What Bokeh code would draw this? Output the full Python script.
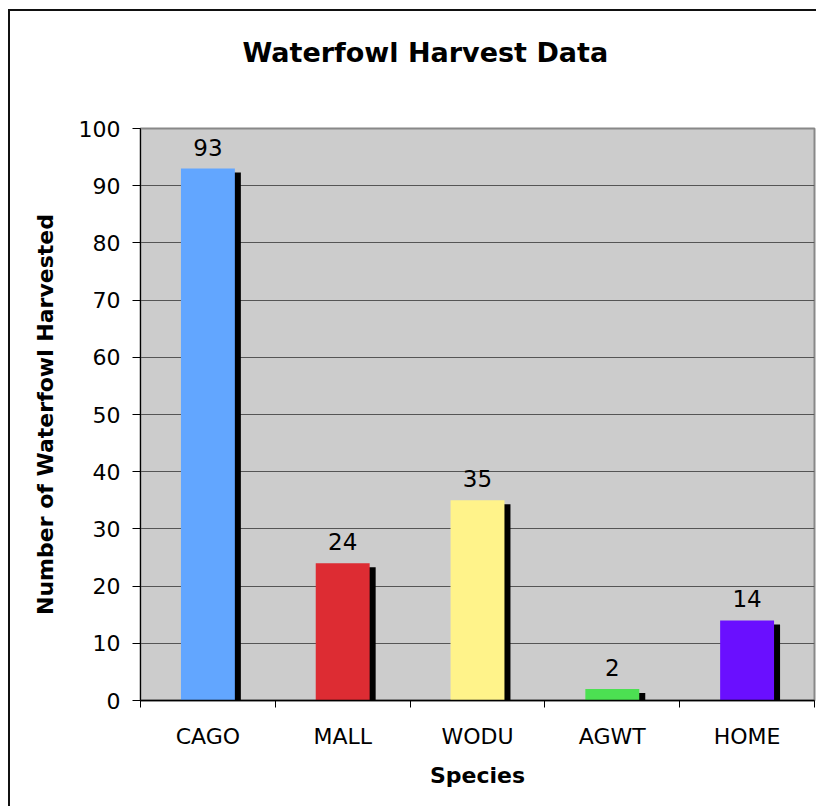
import numpy as np
from bokeh.plotting import figure
from bokeh.models import FixedTicker, Range1d, LabelSet, ColumnDataSource, Title
from bokeh.core.properties import value
from bokeh.embed import file_html
from bokeh.resources import INLINE

title_text = "Waterfowl Harvest Data"
species = ["CAGO", "MALL", "WODU", "AGWT", "HOME"]
harvest = [93, 24, 35, 2, 14]
colors = ["#62A6FF", "#DD2C33", "#FFF38A", "#4CE052", "#6A0FFF"]
y_ticks = [0, 10, 20, 30, 40, 50, 60, 70, 80, 90, 100]

pos = np.arange(1, len(species) + 1)
FONT = "DejaVu Sans"

p = figure(width=808, height=797, output_backend="svg", toolbar_location=None,
           x_range=Range1d(0.5, len(species) + 0.5), y_range=Range1d(0, 100),
           min_border_left=130, min_border_right=4, min_border_top=117,
           min_border_bottom=108, title=title_text)
p.styles = {"margin-left": "8px", "margin-top": "9px",
            "border-left": "2px solid #111", "border-top": "2px solid #111"}

p.background_fill_color = "#CCCCCC"
p.border_fill_color = "white"
p.outline_line_color = "#888888"
p.outline_line_width = 2

p.title.text_font = FONT
p.title.text_font_size = "27px"
p.title.text_font_style = "bold"
p.title.text_color = "black"
p.title.align = "left"
p.title.offset = 102
p.title.standoff = 0

# blank spacer between the title and the plot area
p.add_layout(Title(text=" ", text_font_size="1px", standoff=58), "above")

# shadows (offset a few pixels right and down)
dx = 6 / 134.8
dy = 4 / 5.72
p.vbar(x=pos + dx, top=np.array(harvest) - dy, width=0.4, bottom=0,
       fill_color="black", line_color=None)
p.vbar(x=pos, top=harvest, width=0.4, bottom=0, fill_color=colors, line_color=None)

src = ColumnDataSource(dict(x=pos, y=harvest, t=[str(v) for v in harvest]))
labels = LabelSet(x="x", y="y", text="t", source=src, text_align="center",
                  text_baseline="alphabetic", y_offset=13, text_font_size=value("23px"),
                  text_font=value(FONT), text_color="black")
p.add_layout(labels)

p.xgrid.visible = False
p.ygrid.ticker = FixedTicker(ticks=y_ticks)
p.ygrid.grid_line_color = "#555555"
p.ygrid.grid_line_width = 1

xa = p.xaxis[0]
xa.ticker = FixedTicker(ticks=list(pos), minor_ticks=list(pos - 0.5) + [len(species) + 0.5])
xa.major_label_overrides = {int(k): s for k, s in zip(pos, species)}
xa.major_tick_out = 0
xa.major_tick_in = 0
xa.minor_tick_out = 7
xa.minor_tick_in = 0
xa.minor_tick_line_color = "black"
xa.axis_line_color = "black"
xa.axis_line_width = 1.5
xa.major_label_standoff = 16
xa.major_label_text_font = FONT
xa.major_label_text_font_size = "22px"
xa.major_label_text_color = "black"
xa.axis_label = "Species"
xa.axis_label_text_font = FONT
xa.axis_label_text_font_size = "22px"
xa.axis_label_text_font_style = "bold"
xa.axis_label_text_color = "black"
xa.axis_label_standoff = 11

ya = p.yaxis[0]
ya.ticker = FixedTicker(ticks=y_ticks)
ya.major_tick_out = 8
ya.major_tick_in = 0
ya.minor_tick_out = 0
ya.minor_tick_in = 0
ya.major_tick_line_color = "black"
ya.axis_line_color = "black"
ya.major_label_standoff = 12
ya.major_label_text_font = FONT
ya.major_label_text_font_size = "22px"
ya.major_label_text_color = "black"
ya.axis_label = "Number of Waterfowl Harvested"
ya.axis_label_text_font = FONT
ya.axis_label_text_font_size = "22px"
ya.axis_label_text_font_style = "bold"
ya.axis_label_text_color = "black"
ya.axis_label_standoff = 18

open("out.html", "w").write(file_html(p, INLINE))
